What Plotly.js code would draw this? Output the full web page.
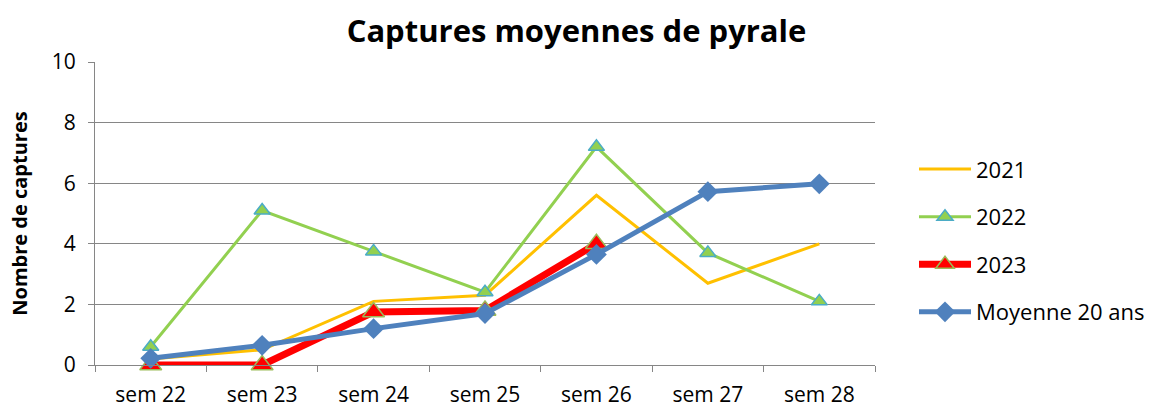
<!DOCTYPE html>
<html>
<head>
<meta charset="utf-8">
<script src="https://cdn.plot.ly/plotly-3.0.1.min.js"></script>
<style>html,body{margin:0;padding:0;background:#fff;}#chart{width:1153px;height:410px;}</style>
</head>
<body>
<div id="chart"></div>
<script>
const categories = ["sem 22","sem 23","sem 24","sem 25","sem 26","sem 27","sem 28"];
const y2021 = [0.2, 0.5, 2.1, 2.3, 5.6, 2.7, 4.0];
const y2022 = [0.6, 5.1, 3.75, 2.4, 7.2, 3.7, 2.1];
const y2023 = [0, 0, 1.75, 1.8, 4.0, null, null];
const yMoy = [0.22, 0.65, 1.2, 1.7, 3.65, 5.72, 5.98];
const yTicks = [0, 2, 4, 6, 8, 10];

const FONT = "Open Sans, Liberation Sans, sans-serif";

const traces = [
  {x: categories, y: y2021, name: "2021", type: "scatter", mode: "lines", legendgroup: "a", cliponaxis: false,
   line: {color: "#FFC000", width: 3}},
  {x: categories, y: y2022, name: "2022", type: "scatter", mode: "lines+markers", legendgroup: "b", cliponaxis: false,
   line: {color: "#92D050", width: 3},
   marker: {symbol: "triangle-up", size: 14, color: "#92D050", line: {color: "#4BACC6", width: 1.5}}},
  {x: categories, y: y2023, name: "2023", type: "scatter", mode: "lines+markers", legendgroup: "c", cliponaxis: false,
   line: {color: "#FF0000", width: 7},
   marker: {symbol: "triangle-up", size: 19, color: "#FF0000", line: {color: "#9BBB59", width: 1.5}}},
  {x: categories, y: yMoy, name: "Moyenne 20 ans", type: "scatter", mode: "lines+markers", legendgroup: "d", cliponaxis: false,
   line: {color: "#4F81BD", width: 5},
   marker: {symbol: "diamond", size: 16, color: "#4F81BD"}}
];

const layout = {
  width: 1153, height: 410,
  margin: {l: 95, r: 278, t: 62, b: 45, autoexpand: false},
  paper_bgcolor: "#fff", plot_bgcolor: "#fff",
  font: {family: FONT, color: "#000", size: 20},
  title: {text: "Captures moyennes de pyrale", x: 0.5, xref: "container", y: 0.925, yanchor: "middle",
          font: {family: FONT, size: 31, color: "#000", weight: "bold"}},
  xaxis: {type: "category", range: [-0.5, 6.5], showgrid: false, showline: true, linecolor: "#868686", linewidth: 1,
          ticks: "outside", tickson: "boundaries", ticklen: 6, tickcolor: "#868686", ticklabelstandoff: 11,
          tickfont: {family: FONT, size: 21, color: "#000"}, zeroline: false, fixedrange: true, automargin: false},
  yaxis: {range: [0, 10], tickvals: yTicks, showgrid: true, gridcolor: "#868686", gridwidth: 1,
          showline: true, linecolor: "#868686", linewidth: 1, ticks: "outside", ticklen: 6, tickcolor: "#868686",
          zeroline: false, tickfont: {family: FONT, size: 21, color: "#000"}, ticklabelstandoff: 8, automargin: false,
          title: {text: "Nombre de captures", standoff: 18, font: {family: FONT, size: 20, color: "#000", weight: "bold"}}},
  legend: {x: 1.05, xanchor: "left", y: 0.41, yanchor: "middle", traceorder: "grouped", tracegroupgap: 16,
           font: {family: FONT, size: 22, color: "#000"}, bgcolor: "rgba(0,0,0,0)", itemwidth: 52},
  showlegend: true
};

Plotly.newPlot("chart", traces, layout, {displayModeBar: false, staticPlot: true});
</script>
</body>
</html>
